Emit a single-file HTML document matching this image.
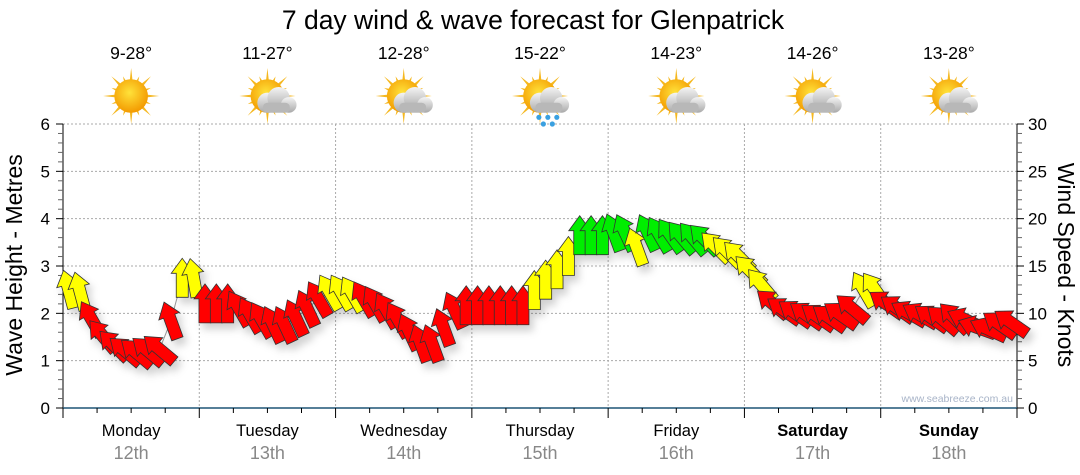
<!DOCTYPE html>
<html><head><meta charset="utf-8"><style>
body{margin:0;background:#fff;}
svg{display:block;font-family:"Liberation Sans",sans-serif;}
</style></head><body>
<svg id="chart" width="1080" height="475" viewBox="0 0 1080 475" xmlns="http://www.w3.org/2000/svg">
<defs>
<filter id="sh" x="-50%" y="-50%" width="200%" height="200%"><feDropShadow dx="4" dy="6" stdDeviation="4" flood-color="#000" flood-opacity="0.18"/></filter>
<radialGradient id="sun" cx="45%" cy="40%" r="60%"><stop offset="0" stop-color="#ffe23a"/><stop offset="1" stop-color="#f39a00"/></radialGradient>
<linearGradient id="cloud" x1="0" y1="0" x2="0" y2="1"><stop offset="0" stop-color="#f4f4f4"/><stop offset="1" stop-color="#a9a9a9"/></linearGradient>
</defs>
<text x="533" y="29" font-size="26.5" text-anchor="middle" fill="#000">7 day wind &amp; wave forecast for Glenpatrick</text>
<g id="grid"></g>
<g id="axes"></g>
<g id="icons"></g>
<polyline id="trail" fill="none" stroke="#999" stroke-width="1"/>
<g id="arrows" filter="url(#sh)"></g>
<text x="1013" y="402" font-size="10.5" text-anchor="end" fill="#a8b4c8">www.seabreeze.com.au</text>
<text transform="translate(22,265) rotate(-90)" font-size="23" text-anchor="middle">Wave Height - Metres</text>
<text transform="translate(1058,265) rotate(90)" font-size="23" text-anchor="middle">Wind Speed - Knots</text>
</svg>
<script>
const days=["Monday","Tuesday","Wednesday","Thursday","Friday","Saturday","Sunday"];
const dates=["12th","13th","14th","15th","16th","17th","18th"];
const temps=["9-28°","11-27°","12-28°","15-22°","14-23°","14-26°","13-28°"];
const weather=["sun","cloud","cloud","rain","cloud","cloud","cloud"];
const waveTicks=[0,1,2,3,4,5,6];
const windTicks=[0,5,10,15,20,25,30];
const windSpeed=[
12.5,12.3,9.4,7.6,6.6,6.0,5.8,6.0,6.2,9.2,13.7,13.7,
11,11,11,10.5,9.8,9.3,8.8,8.8,9.5,10.5,11.5,12.2,
12.2,12.0,11.5,11.0,10.3,9.3,8.0,6.8,6.8,8.5,10.3,10.8,
10.8,10.8,10.8,10.8,10.8,12.4,13.5,14.6,16.0,18.2,18.2,18.2,
18.5,18.5,17,18.5,18.3,18.2,18.0,17.9,17.8,17.0,16.5,16.0,
14.5,13,11,10.3,10,9.8,9.6,9.5,9.8,10.5,12.5,12.5,
11,10.5,10,9.8,9.5,9.3,9.5,9.3,8.5,8.3,8.8,9.0];
const windDir=[
-15,-15,-30,-40,-45,-50,-50,-50,-50,-20,0,-10,
0,0,0,-30,-30,-30,-25,-25,-25,-25,-30,-30,
-30,-30,-30,-30,-30,-30,-25,-20,-20,-20,-25,0,
0,0,0,0,0,0,0,0,0,0,0,0,
-20,-25,-20,-25,-30,-35,-40,-40,-45,-45,-45,-45,
-45,-40,-50,-55,-55,-55,-55,-55,-55,-50,-30,-35,
-55,-55,-60,-60,-55,-50,-45,-65,-70,-65,-55,-55];
const NS="http://www.w3.org/2000/svg";
const X0=63,X1=1017,Y0=408,Y1=124,DW=(X1-X0)/7;
const yWave=v=>Y0-(v/6)*(Y0-Y1);
const yWind=v=>Y0-(v/30)*(Y0-Y1);
const xIdx=i=>X0+(i+0.5)*DW/12;
function mk(tag,attrs,parent){const e=document.createElementNS(NS,tag);for(const k in attrs)e.setAttribute(k,attrs[k]);parent.appendChild(e);return e;}
const grid=document.getElementById('grid'),axes=document.getElementById('axes'),icons=document.getElementById('icons'),arrows=document.getElementById('arrows');
waveTicks.forEach(v=>{if(v>0){const l=mk('line',{x1:X0,x2:X1,y1:yWave(v),y2:yWave(v),stroke:'#aaa','stroke-dasharray':'2,2','stroke-width':1},grid);

}});
for(let d=1;d<7;d++){const l=mk('line',{x1:X0+d*DW,x2:X0+d*DW,y1:Y1,y2:Y0,stroke:'#aaa','stroke-dasharray':'2,2','stroke-width':1},grid);

}
mk('line',{x1:X0,x2:X0,y1:Y1,y2:Y0,stroke:'#000'},axes);
mk('line',{x1:X1,x2:X1,y1:Y1,y2:Y0,stroke:'#000'},axes);
for(let k=0;k<=30;k++){const v=k*0.2,y=yWave(v);const maj=k%5==0;mk('line',{x1:maj?56:58,x2:X0,y1:y,y2:y,stroke:maj?'#000':'#666'},axes);}
waveTicks.forEach(v=>{const t=mk('text',{x:50,y:yWave(v)+6,'font-size':17,'text-anchor':'end'},axes);t.textContent=v;

});
for(let k=0;k<=30;k++){const y=yWind(k);const maj=k%5==0;mk('line',{x1:X1,x2:maj?1024:1022,y1:y,y2:y,stroke:maj?'#000':'#666'},axes);}
windTicks.forEach(v=>{const t=mk('text',{x:1028,y:yWind(v)+6,'font-size':17,'text-anchor':'start'},axes);t.textContent=v;

});
mk('line',{x1:X0,x2:X1,y1:Y0,y2:Y0,stroke:'#1f5577','stroke-width':1.5},axes);
for(let k=0;k<=28;k++){const x=X0+k*DW/4;const maj=k%4==0;mk('line',{x1:x,x2:x,y1:Y0,y2:maj?418:413,stroke:'#000'},axes);}
days.forEach((d,i)=>{const cx=X0+(i+0.5)*DW;
const t=mk('text',{x:cx,y:436,'font-size':16.5,'text-anchor':'middle','font-weight':i>=5?'bold':'normal'},axes);t.textContent=d;


const t2=mk('text',{x:cx,y:459,'font-size':18,'text-anchor':'middle',fill:'#888'},axes);t2.textContent=dates[i];


const t3=mk('text',{x:cx,y:59,'font-size':17.5,'text-anchor':'middle'},icons);t3.textContent=temps[i];


const g=mk('g',{transform:`translate(${cx},96) scale(1.12)`},icons);


for(let r=0;r<16;r++){const a=r*Math.PI/8,L=r%2?19:25;mk('polygon',{points:`${Math.cos(a-0.12)*12},${Math.sin(a-0.12)*12} ${Math.cos(a)*L},${Math.sin(a)*L} ${Math.cos(a+0.12)*12},${Math.sin(a+0.12)*12}`,fill:'#f5b820'},g);}
mk('circle',{cx:0,cy:0,r:15,fill:'url(#sun)'},g);
if(weather[i]!='sun'){const c=mk('g',{transform:'translate(6,4)'},g);
mk('circle',{cx:-6,cy:2,r:9,fill:'url(#cloud)'},c);mk('circle',{cx:4,cy:-2,r:10,fill:'url(#cloud)'},c);mk('circle',{cx:13,cy:4,r:7,fill:'url(#cloud)'},c);
mk('rect',{x:-10,y:2,width:24,height:9,rx:4,fill:'#b8b8b8'},c);
if(weather[i]=='rain'){[-7,1,9,-3,5].forEach((dx,j)=>mk('circle',{cx:dx,cy:j<3?15:21,r:2.3,fill:'#3aa0e0'},c));}}
});
const pts=[];
windSpeed.forEach((s,i)=>{const x=xIdx(i),y=yWind(s);pts.push(x+','+y);
const col=s>=17.5?'#00ee00':s>=12?'#ffff00':'#ff0000';
const p=mk('polygon',{points:'0,-20 11,-5 6,-5 6,19 -6,19 -6,-5 -11,-5',fill:col,stroke:'#333','stroke-width':0.8,transform:`translate(${x},${y}) rotate(${windDir[i]})`},arrows);

});
document.getElementById('trail').setAttribute('points',pts.join(' '));
</script>
</body></html>
